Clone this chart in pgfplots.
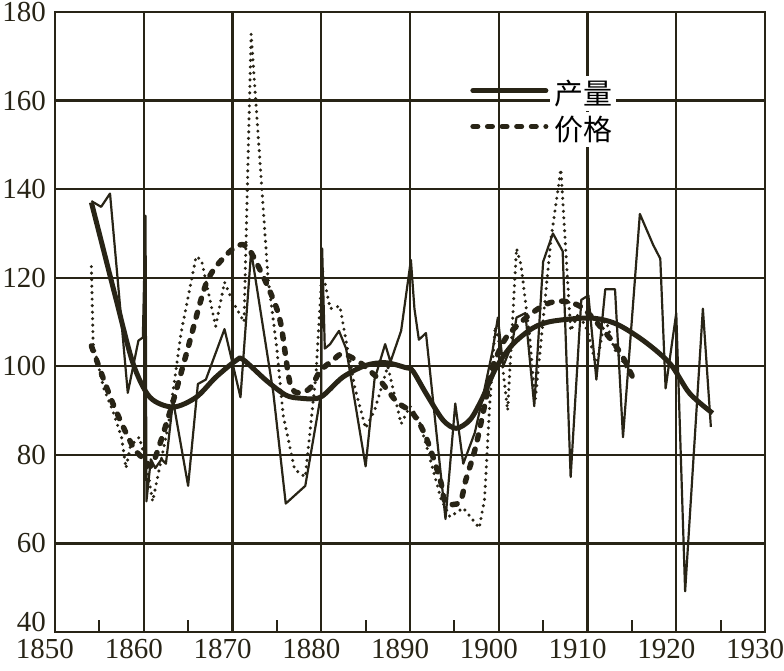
\documentclass[border=0pt]{standalone}
\usepackage{pgfplots}
\pgfplotsset{compat=1.18}
\usepackage{fontspec}
\setmainfont{Liberation Serif}
\newfontfamily\cjk{Noto Sans CJK SC}
\definecolor{ink}{RGB}{40,36,22}
\begin{document}
\begin{tikzpicture}
\begin{axis}[
  scale only axis, width=710pt, height=620pt,
  xmin=1850, xmax=1930, ymin=40, ymax=180,
  xtick={1850,1860,...,1930}, ytick={60,80,...,180},
  grid=major,
  major grid style={line width=2.4pt, color=ink},
  axis line style={line width=2pt, color=ink},
  xtick pos=left, ytick pos=left,
  tick align=inside,
  major tick length=0pt,
  /pgf/number format/assume math mode=true,
  /pgf/number format/1000 sep={},
  ticklabel style={font=\fontsize{29}{29}\selectfont, color=ink, inner sep=1pt},
  xticklabel style={xshift=-10pt, yshift=-6pt},
  yticklabel style={xshift=-8pt},
  extra y ticks={40},
  extra y tick style={yticklabel style={yshift=10pt}},
  extra x ticks={1855,1865,...,1925},
  extra x tick labels={},
  extra x tick style={grid=none, major tick length=12pt,
    tick style={line width=2pt, color=ink}},
  legend style={at={(0.5805,0.904)}, anchor=north west, draw=none, fill=none,
    font=\fontsize{29}{29}\selectfont\cjk, row sep=2pt,
    /tikz/every even column/.append style={column sep=4pt}},
  legend cell align=left,
  legend image code/.code={\draw[#1] (0pt,0pt) -- (73pt,0pt);},
  clip=false,
]
\coordinate (sw) at (rel axis cs:0,0);
\coordinate (ne) at (rel axis cs:1,1);

\addlegendimage{color=ink, line width=5pt, line cap=round}
\addlegendentry{\setlength{\fboxsep}{4pt}\colorbox{white}{产量}}
\addlegendimage{color=ink, line width=5pt, line cap=round, dash pattern=on 5pt off 9.6pt}
\addlegendentry{\setlength{\fboxsep}{4pt}\colorbox{white}{价格}}

% production, annual (thin solid)
\addplot[color=ink, line width=2.2pt, line join=round, forget plot] coordinates {
(1854.1,137.3) (1855.2,136) (1856.2,139) (1858.2,94) (1859.4,105.8) (1859.9,106.5)
(1860.2,134) (1860.3,69.5) (1860.8,79) (1861.3,77) (1862.0,79) (1862.5,78)
(1863.3,92.3) (1865,73) (1866.1,96) (1867,97) (1869.1,108.4) (1870.9,93)
(1872.1,126) (1874.6,94) (1876,69) (1878.2,73) (1880,94) (1880.1,126.6)
(1880.4,104) (1881,105) (1882,108) (1882.8,104) (1885,77.4) (1886,97)
(1887.2,105) (1887.8,101) (1889,108) (1890.1,124) (1890.5,113) (1891,106)
(1891.8,107.5) (1894,65.5) (1895.1,91.6) (1896,78) (1897.3,85) (1898.2,93)
(1899.3,103.5) (1899.9,111) (1900.5,100) (1901.5,105) (1902,111) (1903,112)
(1904,91) (1905,123.6) (1906.1,130) (1907.2,126) (1908.1,75) (1909.3,115)
(1910.1,116) (1911,97) (1912,117.4) (1913.1,117.4) (1914,84) (1915.9,134.4)
(1917.4,127.4) (1918.2,124.3) (1918.8,95) (1920,112) (1921,49.2) (1923,113)
(1923.9,86.3)
};

% price, annual (thin dotted)
\addplot[color=ink, line width=3.4pt, line cap=round, dash pattern=on 0pt off 6.5pt, forget plot] coordinates {
(1854.1,122.5) (1854.3,105) (1855.5,95) (1856.5,90) (1857.5,84) (1858,77)
(1858.5,82) (1859.5,84) (1860.3,78) (1861,69.5) (1862.8,87) (1864.2,107.5)
(1865.9,124.8) (1866.5,124) (1868.1,109) (1869.1,119) (1870,114.7) (1871.3,110)
(1872.1,175) (1874,120) (1875,104) (1875.7,89) (1877,76.7) (1878.2,75)
(1879.4,98) (1880.1,122) (1881,113) (1882.1,113.6) (1882.8,105.7) (1883.8,95)
(1885,86) (1886,90) (1887.5,100) (1889,87) (1890,91) (1891,88) (1892,81)
(1893.5,70) (1894.5,66) (1896,68) (1897.8,63.5) (1898.4,70) (1899,92)
(1899.6,109) (1900.2,104) (1901,90) (1902,126.6) (1902.5,123) (1903.5,106.4)
(1904.1,92) (1905.9,129) (1907,144.5) (1908.1,108) (1909,112) (1910,108)
(1911,100) (1912,111) (1913,104) (1914,101) (1915,97.5)
};

% production, smoothed (thick solid)
\addplot[color=ink, line width=5pt, smooth, tension=0.5, forget plot] coordinates {
(1854.1,137) (1855.5,126) (1856.9,115) (1858.8,100.6) (1860.7,93) (1863.3,90.8)
(1865.9,93) (1868.1,97.5) (1870.4,101.3) (1871.2,101.5) (1873.8,96.8) (1876,93.5)
(1877.6,92.8) (1879.9,93) (1882.4,97.5) (1885,100.2) (1887.3,100.8) (1889.5,99.7)
(1890.3,99) (1891.8,93.9) (1893.7,87.9) (1895.2,86) (1896.8,88) (1898.2,93)
(1899.7,99.7) (1901.6,105) (1903.9,108.7) (1906.1,110.2) (1910.3,110.9)
(1913.2,109.6) (1916.3,105.8) (1919.3,100.6) (1921.5,93.9) (1924.1,89.4)
};

% price, smoothed (thick dashed)
\addplot[color=ink, line width=5.5pt, line cap=round, dash pattern=on 5pt off 9.6pt, smooth, tension=0.5, forget plot] coordinates {
(1854.1,104.6) (1856.5,91.7) (1858.8,81.8) (1860.1,79) (1861,78) (1863,90)
(1864.8,102.8) (1867,118.5) (1868.9,124.3) (1870.8,127.4) (1872,126) (1874.2,117)
(1875.4,110) (1876.5,96) (1877.6,94) (1878.8,95.2) (1879.9,99) (1881.3,101.3)
(1882.4,102.8) (1884.4,100.8) (1886.6,96.8) (1888.5,92) (1890.3,89.4) (1891.8,84)
(1893.4,74.4) (1894,69.3) (1895.6,69.3) (1896.3,74.4) (1897.4,81.8) (1898.6,93)
(1899.3,99.7) (1900.8,106.4) (1903.1,111) (1905.3,114) (1907.2,114.7)
(1909.5,113.1) (1912.5,106.4) (1914,102) (1915.1,97.5)
};
\end{axis}
\pgfresetboundingbox
\path ([shift={(-55pt,-38pt)}]sw) rectangle ([shift={(19pt,12pt)}]ne);
\end{tikzpicture}
\end{document}
